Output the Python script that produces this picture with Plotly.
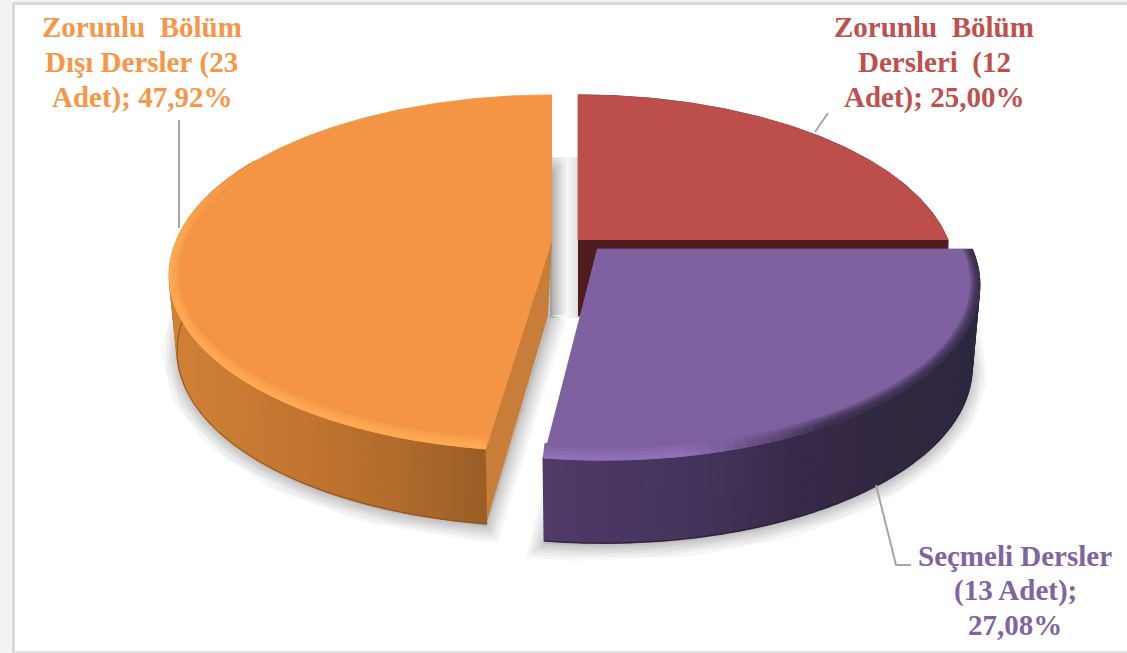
import numpy as np
import plotly.graph_objects as go

# ---- data ----
categories = ["Zorunlu Bölüm Dersleri", "Seçmeli Dersler", "Zorunlu Bölüm Dışı Dersler"]
counts = [12, 13, 23]
label_lines = [
    ["Zorunlu\u00a0\u00a0Bölüm", "Dersleri\u00a0\u00a0(12", "Adet); 25,00%"],
    ["Seçmeli Dersler", "(13 Adet);", "27,08%"],
    ["Zorunlu\u00a0\u00a0Bölüm", "Dışı Dersler\u00a0(23", "Adet); 47,92%"],
]
top_colors = ["#bc4f4c", "#7f60a0", "#f39545"]
text_colors = ["#c0504d", "#8064a2", "#f79646"]

# ---- geometry / style of the 3-D projection (pixel space) ----
W, H = 1127, 653
KP, AP = 0.1853, 172.0                # perspective strength, depth scale
apex = [(578, 240), (597, 249), (552, 240)]
radius = [370, 375, 375]
skew = [0.0, 0.03, -0.03]
depth = [76, 83, 75]
BOTTOM_SHRINK = 0.98


def hex2rgb(c):
    return np.array([int(c[i:i + 2], 16) for i in (1, 3, 5)], float)


def rgb2hex(a):
    return "#%02x%02x%02x" % tuple(int(round(v)) for v in a)


def mix(a, b, t):
    return rgb2hex(hex2rgb(a) * (1 - t) + hex2rgb(b) * t)


def ramp(x, xs, cols):
    arr = np.array([hex2rgb(c) for c in cols])
    return rgb2hex([np.interp(x, xs, arr[:, k]) for k in range(3)])


def proj(i, deg, sx=1.0, sy=1.0, drop=0.0, shrink=1.0):
    """Project a point on the rim of slice i to pixel space."""
    t = np.radians(deg)
    u, v = np.sin(t), np.cos(t)
    w = 1 + KP * v
    X = radius[i] * u / w
    Y = -AP * v / w
    X = X + skew[i] * np.maximum(Y, 0)
    return apex[i][0] + X * sx * shrink, apex[i][1] + Y * sy + drop


fracs = np.array(counts, float) / sum(counts)
edges = np.concatenate([[0], np.cumsum(fracs)]) * 360
span = [(edges[i], edges[i + 1]) for i in range(3)]

fig = go.Figure()


def poly(xs, ys, color, lw=0.8, lc=None):
    fig.add_trace(go.Scatter(
        x=list(xs), y=list(ys), mode="lines", fill="toself", fillcolor=color,
        line=dict(color=lc or color, width=lw), hoverinfo="skip", showlegend=False))


def arc(a, b, n=120):
    return np.linspace(a, b, n)


# ---- soft shadows under the bottom faces ----
for lw in (30, 24, 18, 13, 8, 4):
    for i in (2, 1):
        a, b = span[i]
        th = arc(a, b)
        x, y = proj(i, th, drop=depth[i] + 3, shrink=BOTTOM_SHRINK)
        xs = np.concatenate([[apex[i][0]], x, [apex[i][0]]])
        ys = np.concatenate([[apex[i][1] + depth[i]], y, [apex[i][1] + depth[i]]])
        fig.add_trace(go.Scatter(
            x=xs, y=ys, mode="lines", fill="toself", fillcolor="rgba(0,0,0,0.012)",
            line=dict(color="rgba(0,0,0,0.034)", width=lw),
            hoverinfo="skip", showlegend=False))

# ---- red slice ----
i = 0
a, b = span[i]
x, y = proj(i, arc(a, b), drop=depth[i], shrink=BOTTOM_SHRINK)
tx, ty = proj(i, arc(a, b))
poly(np.concatenate([tx, x[::-1]]), np.concatenate([ty, y[::-1]]), "#4f1d1e")
rx, ry = proj(i, b)
poly([apex[i][0], rx, rx, apex[i][0]],
     [apex[i][1], ry, ry + depth[i], apex[i][1] + depth[i]], "#4f1d1e")
poly(np.concatenate([[apex[i][0]], tx]), np.concatenate([[apex[i][1]], ty]), top_colors[i])


def draw_walls(i, a, b, xs, cols, n):
    grid = np.linspace(a, b, n + 1)
    for k in range(n):
        th = np.linspace(grid[k], grid[k + 1], 4)
        x1, y1 = proj(i, th)
        x2, y2 = proj(i, th, drop=depth[i], shrink=BOTTOM_SHRINK)
        c = ramp(float(np.mean(x1)), xs, cols)
        poly(np.concatenate([x1, x2[::-1]]), np.concatenate([y1, y2[::-1]]), c, lw=1.6)


def draw_top(i, rim_fn, n_th=60):
    a, b = span[i]
    th = arc(a, b, 200)
    x, y = proj(i, th)
    poly(np.concatenate([[apex[i][0]], x]), np.concatenate([[apex[i][1]], y]), top_colors[i])
    ds = [0.0, 0.014, 0.028, 0.042, 0.056, 0.070]
    grid = np.linspace(a, b, n_th + 1)
    for r in range(len(ds) - 1):
        fade = (r / (len(ds) - 2)) ** 1.5
        for k in range(n_th):
            mid = 0.5 * (grid[k] + grid[k + 1])
            rim = rim_fn(mid)
            if rim is None:
                continue
            t = np.linspace(grid[k], grid[k + 1], 4)
            x1, y1 = proj(i, t, sx=1 - ds[r] * 0.45, sy=1 - ds[r])
            x2, y2 = proj(i, t, sx=1 - ds[r + 1] * 0.45, sy=1 - ds[r + 1])
            poly(np.concatenate([x1, x2[::-1]]), np.concatenate([y1, y2[::-1]]),
                 mix(rim, top_colors[i], fade), lw=1.0)


# ---- orange slice ----
i = 2
a, b = span[i]
ax, ay = apex[i]
cx, cy = proj(i, a)
poly([ax, cx, cx, ax - 4], [ay, cy, cy + depth[i], ay + depth[i]], "#c87d39")
draw_walls(i, a, 300, [170, 300, 400, 486], ["#d08038", "#c2752f", "#b06a2c", "#9a5e26"], 80)
bx, by = proj(i, arc(a, 300), drop=depth[i], shrink=BOTTOM_SHRINK)
fig.add_trace(go.Scatter(x=bx, y=by, mode="lines", line=dict(color="#8d5420", width=1.0),
                         hoverinfo="skip", showlegend=False))


def orange_rim(th):
    if th > 295:
        return None
    return mix("#ffaa52", top_colors[2], float(np.clip((th - 268) / 27, 0, 1)))


draw_top(i, orange_rim)

# ---- purple slice ----
i = 1
a, b = span[i]
draw_walls(i, a, b, [543, 700, 800, 900, 980],
           ["#503a68", "#43345a", "#38294a", "#30283f", "#2e2840"], 80)
bx, by = proj(i, arc(a, b), drop=depth[i], shrink=BOTTOM_SHRINK)
fig.add_trace(go.Scatter(x=bx, y=by, mode="lines", line=dict(color="#2a2038", width=1.0),
                         hoverinfo="skip", showlegend=False))


def purple_rim(th):
    if th < 150:
        return "#3a2f4c"
    if th < 170:
        return mix("#3a2f4c", "#9270b6", (th - 150) / 20)
    return "#9270b6"


draw_top(i, purple_rim)

# ---- leader lines ----
leaders = [([815, 828], [132, 113]), ([876, 896, 911], [485, 565, 565]), ([179, 179], [120, 228])]
for lx, ly in leaders:
    fig.add_trace(go.Scatter(x=lx, y=ly, mode="lines", line=dict(color="#a6a6a6", width=2),
                             hoverinfo="skip", showlegend=False))

# ---- labels: one annotation per line, so the line pitch can be set ----
label_x = [934, 1015, 141.5]
label_y = [[27, 62, 97], [556, 590, 625], [27, 62, 97]]
annotations = []
for lines, col, lx, ys in zip(label_lines, text_colors, label_x, label_y):
    for line, ly in zip(lines, ys):
        annotations.append(dict(
            x=lx, y=ly, xref="x", yref="y", text=line, showarrow=False,
            xanchor="center", yanchor="middle", align="center",
            font=dict(family="Liberation Serif", size=29, color=col, weight="bold")))

# ---- picture frame ----
shapes = [
    dict(type="rect", x0=0, x1=13, y0=0, y1=H, fillcolor="#f3f3f3", line_width=0, layer="below"),
    dict(type="rect", x0=0, x1=W, y0=0, y1=3, fillcolor="#f3f3f3", line_width=0, layer="below"),
    dict(type="line", x0=13.5, x1=13.5, y0=3, y1=H, line=dict(color="#d9d9d9", width=3), layer="below"),
    dict(type="line", x0=13, x1=W, y0=3.5, y1=3.5, line=dict(color="#d9d9d9", width=3), layer="below"),
    dict(type="line", x0=13, x1=W, y0=652, y1=652, line=dict(color="#e3e3e3", width=2), layer="below"),
]
# grey glow in the gap between the orange and red slices
for inset in (13, 10, 7, 4, 2):
    for x0, x1 in ((550, 552 + inset), (578 - inset, 580)):
        shapes.append(dict(type="rect", x0=x0, x1=x1, y0=157, y1=318,
                           fillcolor="rgba(0,0,0,0.022)", line_width=0, layer="below"))

fig.update_layout(
    width=W, height=H, margin=dict(l=0, r=0, t=0, b=0),
    paper_bgcolor="#ffffff", plot_bgcolor="#ffffff",
    xaxis=dict(range=[0, W], visible=False, fixedrange=True),
    yaxis=dict(range=[H, 0], visible=False, fixedrange=True),
    showlegend=False, annotations=annotations, shapes=shapes, hovermode=False,
)
fig.write_html("out.html", post_script="document.body.style.margin='0';",
               config=dict(displayModeBar=False))
